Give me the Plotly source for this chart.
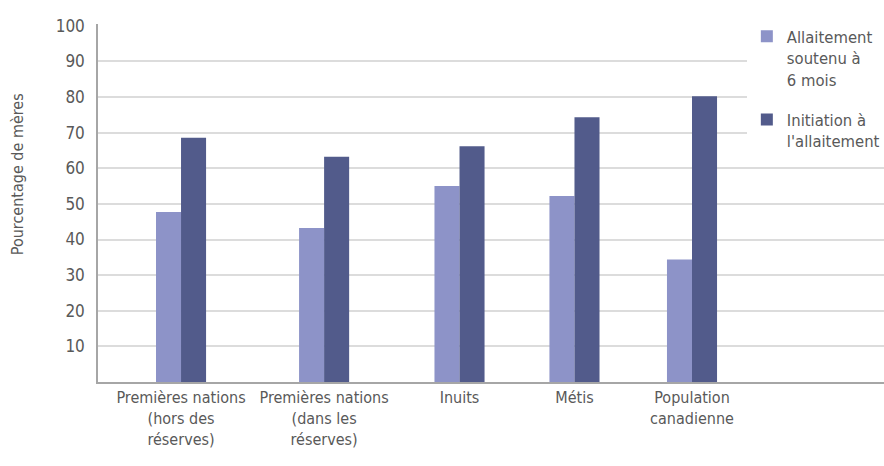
import plotly.graph_objects as go

# Data
categories = [
    "Premières nations<br>(hors des<br>réserves)",
    "Premières nations<br>(dans les<br>réserves)",
    "Inuits",
    "Métis",
    "Population<br>canadienne",
]
soutenu_6_mois = [47.7, 43.2, 55.0, 52.2, 34.4]
initiation = [68.6, 63.2, 66.2, 74.3, 80.2]
y_ticks = [10, 20, 30, 40, 50, 60, 70, 80, 90, 100]
grid_ticks = [10, 20, 30, 40, 50, 60, 70, 80, 90]

# Layout settings
group_pos = [0, 1.12, 2.18, 3.08, 4.0]
bar_w = 0.196
FONT = "Liberation Sans Narrow, DejaVu Sans Condensed, Open Sans, sans-serif"
TEXT = "#595959"
FS = 16

fig = go.Figure()
fig.add_trace(go.Bar(
    x=group_pos, y=soutenu_6_mois, width=bar_w, offset=-bar_w,
    name="Allaitement<br>soutenu à<br>6 mois", legendgroup="soutenu",
    marker=dict(color="#8d93c8", line=dict(width=0)),
))
# second series sits on the overlay axis that carries the gridlines
fig.add_trace(go.Bar(
    x=group_pos, y=initiation, width=bar_w, offset=0,
    name="Initiation à<br>l'allaitement", legendgroup="initiation",
    yaxis="y2",
    marker=dict(color="#525b8b", line=dict(width=0)),
))

fig.update_layout(
    width=884, height=466,
    margin=dict(l=98, r=0, t=24, b=84, autoexpand=False),
    paper_bgcolor="white", plot_bgcolor="white",
    font=dict(family=FONT, size=FS, color=TEXT),
    showlegend=True,
    legend=dict(
        x=0.8255, xanchor="left", y=1.014, yanchor="top",
        bgcolor="white", borderwidth=0,
        font=dict(size=16.5, color=TEXT),
        valign="top", traceorder="grouped", tracegroupgap=16,
    ),
    xaxis=dict(
        range=[-0.65, 5.503],
        tickvals=group_pos, ticktext=categories,
        showgrid=False, zeroline=False,
        showline=True, linecolor="#a6a6a6", linewidth=1.5,
        ticks="", tickfont=dict(size=16, color=TEXT),
    ),
    yaxis=dict(
        range=[0, 100.5],
        tickvals=y_ticks, showgrid=False, zeroline=False,
        showline=True, linecolor="#a6a6a6", linewidth=1.5,
        ticks="", ticklabelstandoff=8,
        tickfont=dict(size=17, color=TEXT),
    ),
    yaxis2=dict(
        range=[0, 100.5], overlaying="y", anchor="x", side="left",
        tickvals=grid_ticks, showticklabels=False,
        showgrid=True, gridcolor="#dcdcdc", gridwidth=1.5,
        zeroline=False, showline=False,
    ),
    annotations=[dict(
        text="Pourcentage de mères", textangle=-90,
        xref="paper", yref="paper", x=-0.102, y=0.58,
        xanchor="center", yanchor="middle", showarrow=False,
        font=dict(size=FS, color=TEXT),
    )],
)

fig.write_html("out.html")
